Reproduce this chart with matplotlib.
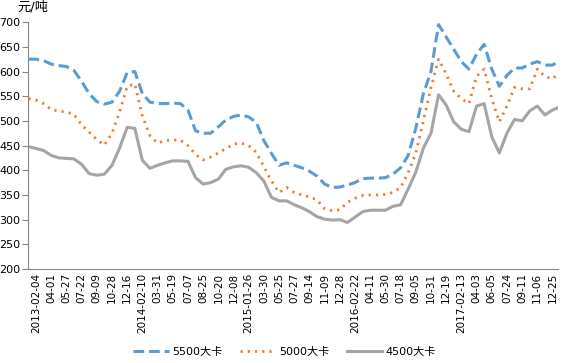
import numpy as np
import matplotlib
matplotlib.use("Agg")
import matplotlib.pyplot as plt

plt.rcParams['font.family'] = ['DejaVu Sans', 'Noto Sans CJK SC']

# weekly category positions (every 4th week sampled), 280 weeks in total
n_weeks = 280
week_idx = np.r_[0:277:4, 279]

tick_labels = ["2013-02-04", "04-01", "05-27", "07-22", "09-09", "10-28", "12-16",
               "2014-02-10", "03-31", "05-19", "07-07", "08-25", "10-20", "12-08",
               "2015-01-26", "03-30", "05-25", "07-27", "09-14", "11-09", "12-28",
               "2016-02-22", "04-11", "05-30", "07-18", "09-05", "10-31", "12-19",
               "2017-02-13", "04-03", "06-05", "07-24", "09-11", "11-06", "12-25"]

kcal5500 = [625, 625, 622, 615, 612, 610, 602, 580, 555, 539,
            534, 538, 560, 598, 600, 555, 538, 535, 535, 536,
            535, 522, 480, 475, 475, 488, 502, 509, 512, 508,
            497, 460, 434, 410, 415, 410, 405, 398, 388, 372,
            365, 366, 370, 375, 383, 384, 384, 385, 392, 405,
            430, 485, 555, 600, 695, 670, 645, 620, 605, 635,
            655, 605, 570, 592, 607, 607, 615, 620, 613, 613,
            620]
kcal5000 = [545, 542, 535, 523, 520, 518, 513, 492, 477, 462,
            451, 475, 518, 570, 575, 510, 470, 455, 460, 461,
            461, 450, 432, 421, 427, 435, 444, 453, 455, 450,
            436, 407, 378, 355, 365, 355, 350, 346, 340, 322,
            318, 320, 335, 343, 349, 350, 350, 351, 355, 365,
            395, 435, 500, 568, 625, 595, 560, 545, 535, 590,
            605, 545, 498, 530, 568, 565, 565, 605, 590, 585,
            596]
kcal4500 = [448, 444, 440, 430, 425, 424, 423, 412, 393, 390,
            392, 410, 445, 487, 485, 420, 404, 410, 415, 419,
            419, 418, 385, 372, 375, 382, 402, 407, 409, 406,
            395, 378, 345, 338, 338, 330, 324, 316, 306, 301,
            299, 300, 294, 305, 316, 319, 319, 319, 327, 330,
            362, 396, 445, 475, 553, 532, 498, 483, 478, 530,
            535, 468, 435, 475, 503, 500, 520, 530, 512, 522,
            527]

fig = plt.figure(figsize=(5.69, 3.63), dpi=100)
ax = fig.add_axes([0.050, 0.259, 0.931, 0.680])

ax.plot(week_idx, kcal5500, color='#5B9BD5', lw=2.2, ls=(0, (3.5, 1.6)), label='5500大卡')
ax.plot(week_idx, kcal5000, color='#ED7D31', lw=2.0, ls=(0, (0.8, 1.8)), label='5000大卡')
ax.plot(week_idx, kcal4500, color='#A5A5A5', lw=2.2, label='4500大卡')

ax.set_xlim(0, n_weeks - 1)
ax.set_ylim(200, 700)
ax.set_yticks(range(200, 701, 50))
ax.set_xticks(4 + 8 * np.arange(len(tick_labels)))
ax.set_xticklabels(tick_labels, rotation=90, fontsize=7.5)
ax.tick_params(axis='x', length=0, pad=3)
ax.tick_params(axis='y', length=4, labelsize=8, pad=2, color='#888888')

for s in ['top', 'right']:
    ax.spines[s].set_visible(False)
ax.spines['left'].set_color('#888888')
ax.spines['bottom'].set_color('#888888')

fig.text(0.030, 0.998, '元/吨', fontsize=9.5, va='top', ha='left')

fig.legend(loc='lower center', bbox_to_anchor=(0.5, -0.01), ncol=3, frameon=False,
           fontsize=8, handlelength=3.2, columnspacing=1.6, handletextpad=0.3)

fig.savefig('out.png', dpi=100)
